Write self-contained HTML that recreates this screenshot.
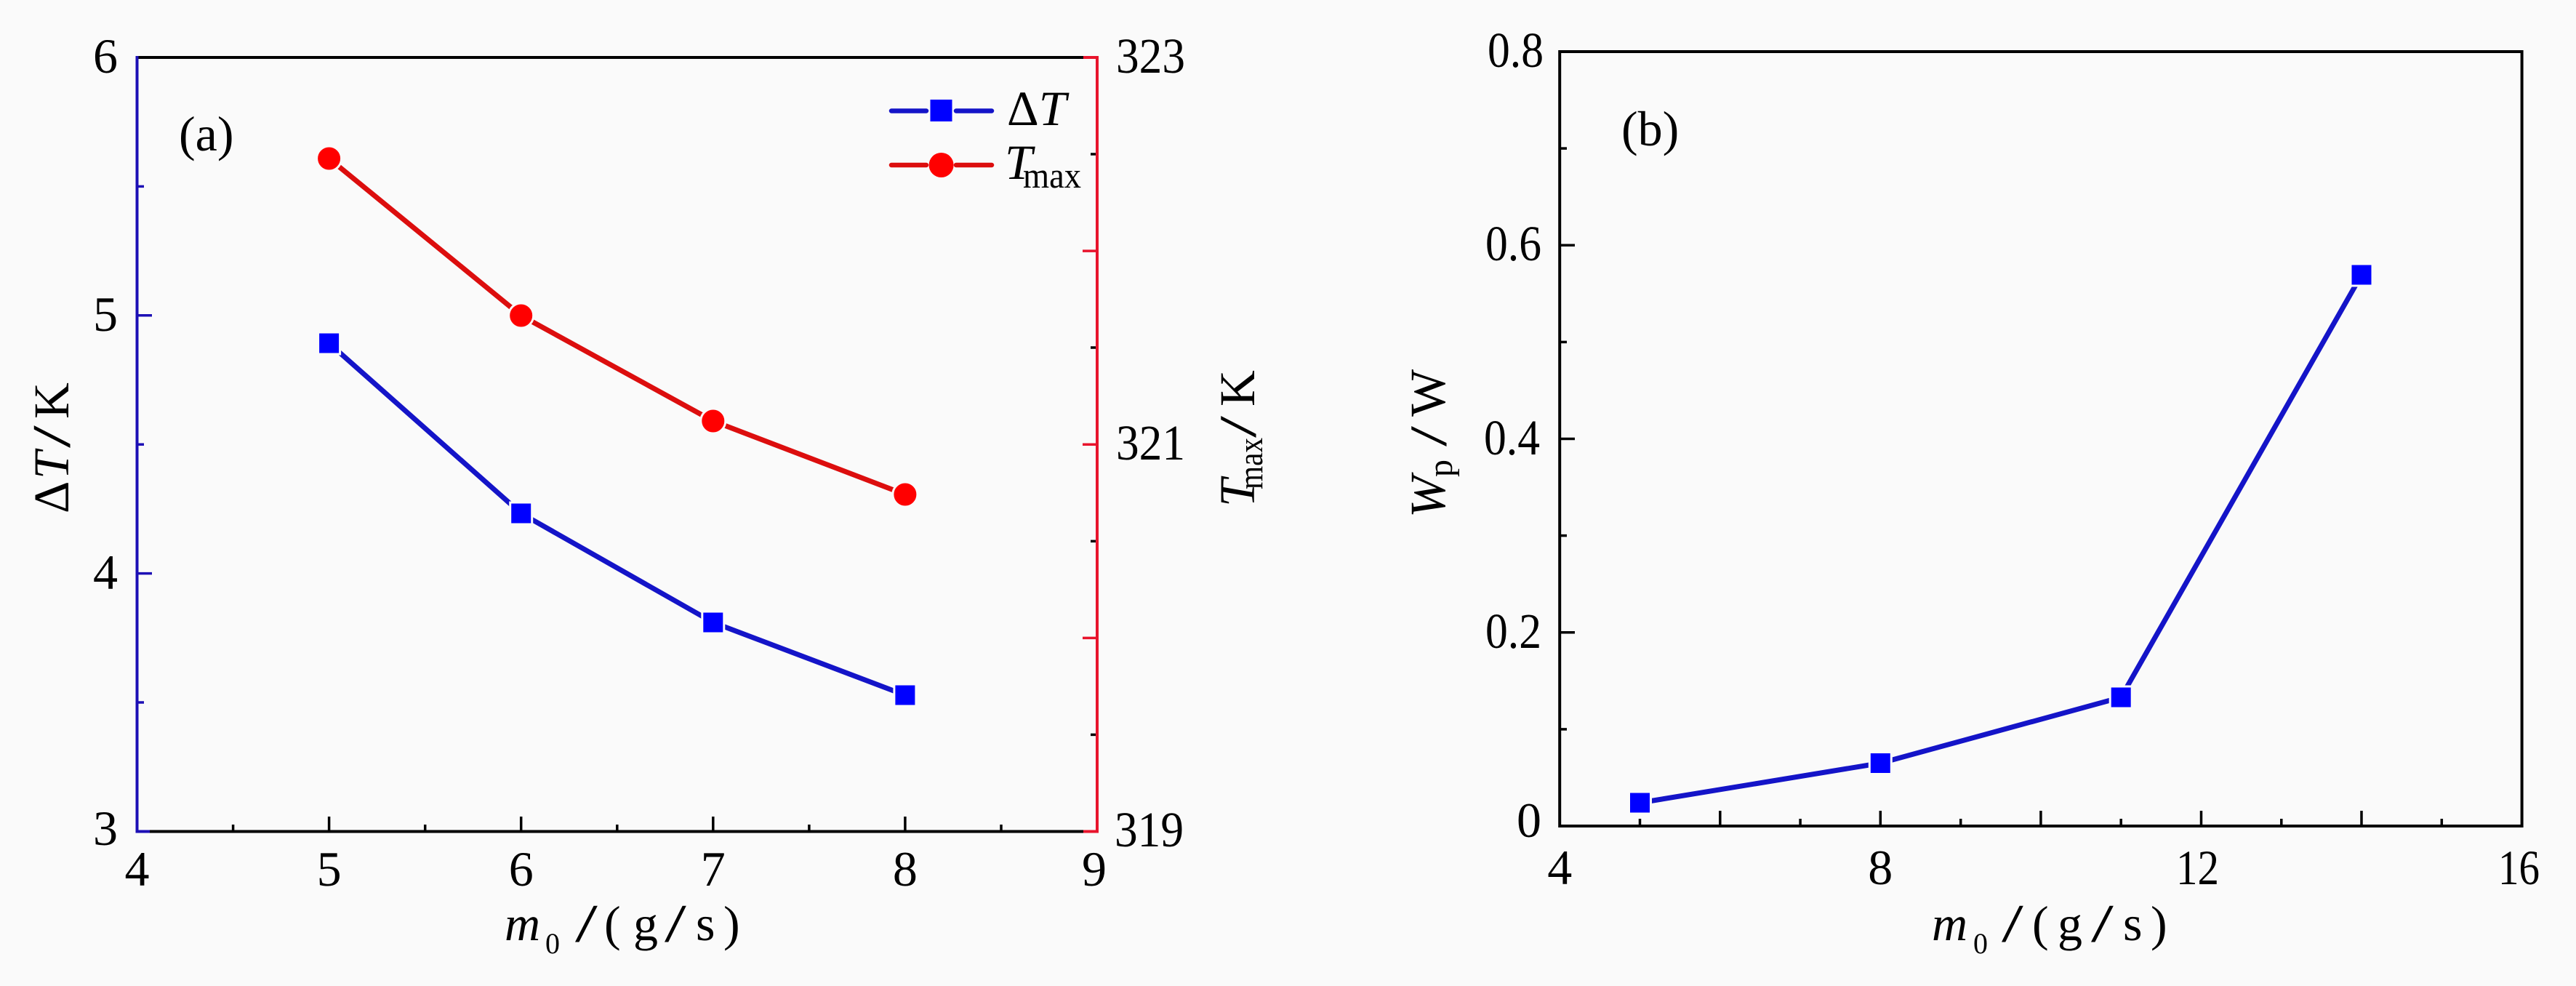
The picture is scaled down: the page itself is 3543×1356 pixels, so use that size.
<!DOCTYPE html>
<html>
<head>
<meta charset="utf-8">
<style>
  html,body{margin:0;padding:0;background:#fafafa;}
  svg{display:block;}
  text{font-family:"Liberation Serif","Times New Roman",serif;fill:#000;}
</style>
</head>
<body>
<svg width="3543" height="1356" viewBox="0 0 3543 1356" xmlns="http://www.w3.org/2000/svg">
  <rect x="0" y="0" width="3543" height="1356" fill="#fafafa"/>

  <!-- ================= PANEL A ================= -->
  <g stroke-width="3.5" fill="none">
    <g stroke="#1c0fb5">
      <line x1="188.5" y1="433.8" x2="209" y2="433.8"/>
      <line x1="188.5" y1="788.6" x2="209" y2="788.6"/>
      <line x1="188.5" y1="256.4" x2="198" y2="256.4"/>
      <line x1="188.5" y1="611.2" x2="198" y2="611.2"/>
      <line x1="188.5" y1="966" x2="198" y2="966"/>
    </g>
    <g stroke="#e8142c">
      <line x1="1509" y1="345.1" x2="1489" y2="345.1"/>
      <line x1="1509" y1="611.2" x2="1489" y2="611.2"/>
      <line x1="1509" y1="877.4" x2="1489" y2="877.4"/>
    </g>
    <g stroke="#000">
      <line x1="1509" y1="212" x2="1500" y2="212"/>
      <line x1="1509" y1="478" x2="1500" y2="478"/>
      <line x1="1509" y1="744.3" x2="1500" y2="744.3"/>
      <line x1="1509" y1="1010.4" x2="1500" y2="1010.4"/>
    </g>
    <g stroke="#000">
      <line x1="452.6" y1="1143.5" x2="452.6" y2="1123"/>
      <line x1="716.7" y1="1143.5" x2="716.7" y2="1123"/>
      <line x1="980.8" y1="1143.5" x2="980.8" y2="1123"/>
      <line x1="1244.9" y1="1143.5" x2="1244.9" y2="1123"/>
      <line x1="320.6" y1="1143.5" x2="320.6" y2="1134"/>
      <line x1="584.7" y1="1143.5" x2="584.7" y2="1134"/>
      <line x1="848.8" y1="1143.5" x2="848.8" y2="1134"/>
      <line x1="1112.9" y1="1143.5" x2="1112.9" y2="1134"/>
      <line x1="1377" y1="1143.5" x2="1377" y2="1134"/>
    </g>
  </g>
  <g stroke-width="4" fill="none">
    <line x1="188.5" y1="79" x2="1509" y2="79" stroke="#000"/>
    <line x1="188.5" y1="1143.5" x2="1509" y2="1143.5" stroke="#000"/>
    <line x1="188.5" y1="1143.5" x2="206" y2="1143.5" stroke="#1c0fb5"/>
    <line x1="188.5" y1="77" x2="188.5" y2="1145.5" stroke="#1c0fb5"/>
    <line x1="1509" y1="77" x2="1509" y2="1145.5" stroke="#e8142c"/>
    <line x1="1490" y1="79" x2="1509" y2="79" stroke="#e8142c"/>
    <line x1="1490" y1="1143.5" x2="1509" y2="1143.5" stroke="#e8142c"/>
  </g>

  <!-- series Tmax (red) -->
  <polyline points="452.6,218 716.7,434 980.8,579 1244.9,680" fill="none" stroke="#dc0e0e" stroke-width="7" stroke-linejoin="round"/>
  <g fill="#ff0000" stroke="#fafafa" stroke-width="3">
    <circle cx="452.6" cy="218" r="17"/>
    <circle cx="716.7" cy="434" r="17"/>
    <circle cx="980.8" cy="579" r="17"/>
    <circle cx="1244.9" cy="680" r="17"/>
  </g>
  <!-- series dT (blue) -->
  <polyline points="452.6,472 716.7,706 980.8,856 1244.9,956" fill="none" stroke="#1414c8" stroke-width="7" stroke-linejoin="round"/>
  <g fill="#0000ff" stroke="#fafafa" stroke-width="3">
    <rect x="437.6" y="457" width="30" height="30"/>
    <rect x="701.7" y="691" width="30" height="30"/>
    <rect x="965.8" y="841" width="30" height="30"/>
    <rect x="1229.9" y="941" width="30" height="30"/>
  </g>

  <!-- legend -->
  <g stroke-width="6.5" stroke-linecap="round">
    <line x1="1226" y1="152.5" x2="1274" y2="152.5" stroke="#1414c8"/>
    <line x1="1315" y1="152.5" x2="1364" y2="152.5" stroke="#1414c8"/>
    <line x1="1226" y1="227" x2="1274" y2="227" stroke="#dc0e0e"/>
    <line x1="1315" y1="227" x2="1364" y2="227" stroke="#dc0e0e"/>
  </g>
  <rect x="1279.5" y="137" width="30" height="30" fill="#0000ff"/>
  <circle cx="1294.6" cy="227" r="17" fill="#ff0000"/>
  <text x="1385" y="172" font-size="68">Δ<tspan font-style="italic">T</tspan></text>
  <text x="1382" y="246" font-size="68" font-style="italic">T</text>
  <text x="1407" y="258" font-size="50" textLength="80" lengthAdjust="spacingAndGlyphs">max</text>

  <text x="246" y="207" font-size="68">(a)</text>

  <g font-size="68" text-anchor="end">
    <text x="162" y="100">6</text>
    <text x="162" y="455">5</text>
    <text x="162" y="810">4</text>
    <text x="162" y="1162">3</text>
  </g>
  <g font-size="69">
    <text x="1535" y="100" textLength="95" lengthAdjust="spacingAndGlyphs">323</text>
    <text x="1535" y="632" textLength="95" lengthAdjust="spacingAndGlyphs">321</text>
    <text x="1533" y="1164" textLength="95" lengthAdjust="spacingAndGlyphs">319</text>
  </g>
  <g font-size="68" text-anchor="middle">
    <text x="188.5" y="1218">4</text>
    <text x="452.6" y="1218">5</text>
    <text x="716.7" y="1218">6</text>
    <text x="980.8" y="1218">7</text>
    <text x="1244.9" y="1218">8</text>
    <text x="1505" y="1218">9</text>
  </g>

  <!-- x title a -->
  <g font-size="68">
    <text x="694" y="1293" font-style="italic">m</text>
    <text x="750" y="1311" font-size="40">0</text>
    <text transform="translate(791,1295) scale(1.5,1)" font-size="74">/</text>
    <text x="831" y="1293">(</text>
    <text x="871" y="1293">g</text>
    <text transform="translate(914,1295) scale(1.45,1)" font-size="74">/</text>
    <text x="957" y="1293">s</text>
    <text x="995" y="1293">)</text>
  </g>

  <!-- y title left a -->
  <g transform="translate(94,0) rotate(-90)" font-size="69">
    <text x="-706" y="0">Δ</text>
    <text x="-659" y="0" font-style="italic">T</text>
    <text transform="translate(-616,2) scale(1.5,1)" font-size="74">/</text>
    <text x="-576" y="0">K</text>
  </g>
  <!-- y title right a -->
  <g transform="translate(1725,0) rotate(-90)" font-size="69">
    <text x="-697" y="0" font-style="italic">T</text>
    <text x="-673" y="11" font-size="48" textLength="71" lengthAdjust="spacingAndGlyphs">max</text>
    <text transform="translate(-602,2) scale(1.5,1)" font-size="72">/</text>
    <text x="-559" y="0">K</text>
  </g>

  <!-- ================= PANEL B ================= -->
  <g stroke-width="3.5" stroke="#000" fill="none">
    <line x1="2365.8" y1="1136" x2="2365.8" y2="1115"/>
    <line x1="2586.3" y1="1136" x2="2586.3" y2="1115"/>
    <line x1="2806.9" y1="1136" x2="2806.9" y2="1115"/>
    <line x1="3027.5" y1="1136" x2="3027.5" y2="1115"/>
    <line x1="3248" y1="1136" x2="3248" y2="1115"/>
    <line x1="2255.5" y1="1136" x2="2255.5" y2="1126"/>
    <line x1="2476.1" y1="1136" x2="2476.1" y2="1126"/>
    <line x1="2696.7" y1="1136" x2="2696.7" y2="1126"/>
    <line x1="2917.2" y1="1136" x2="2917.2" y2="1126"/>
    <line x1="3137.8" y1="1136" x2="3137.8" y2="1126"/>
    <line x1="3358.3" y1="1136" x2="3358.3" y2="1126"/>
    <line x1="2145.2" y1="869.8" x2="2166" y2="869.8"/>
    <line x1="2145.2" y1="603.5" x2="2166" y2="603.5"/>
    <line x1="2145.2" y1="337.3" x2="2166" y2="337.3"/>
    <line x1="2145.2" y1="1002.9" x2="2155" y2="1002.9"/>
    <line x1="2145.2" y1="736.6" x2="2155" y2="736.6"/>
    <line x1="2145.2" y1="470.4" x2="2155" y2="470.4"/>
    <line x1="2145.2" y1="204.1" x2="2155" y2="204.1"/>
  </g>
  <rect x="2145.2" y="71" width="1323.4" height="1065" fill="none" stroke="#000" stroke-width="4"/>

  <polyline points="2255.5,1104 2586.3,1049.5 2917.2,959 3248,378" fill="none" stroke="#1414c8" stroke-width="7" stroke-linejoin="round"/>
  <g fill="#0000ff" stroke="#fafafa" stroke-width="3">
    <rect x="2240.5" y="1089" width="30" height="30"/>
    <rect x="2571.3" y="1034.5" width="30" height="30"/>
    <rect x="2902.2" y="944" width="30" height="30"/>
    <rect x="3233" y="363" width="30" height="30"/>
  </g>

  <text x="2230" y="200" font-size="68">(b)</text>

  <g font-size="69">
    <text x="2046" y="92" textLength="77" lengthAdjust="spacingAndGlyphs">0.8</text>
    <text x="2043" y="358" textLength="77" lengthAdjust="spacingAndGlyphs">0.6</text>
    <text x="2041" y="625" textLength="77" lengthAdjust="spacingAndGlyphs">0.4</text>
    <text x="2043" y="891" textLength="77" lengthAdjust="spacingAndGlyphs">0.2</text>
  </g>
  <text x="2120" y="1151" font-size="68" text-anchor="end">0</text>
  <g font-size="68">
    <text x="2145.2" y="1216" text-anchor="middle">4</text>
    <text x="2586.3" y="1216" text-anchor="middle">8</text>
    <text x="2993" y="1216" textLength="59" lengthAdjust="spacingAndGlyphs">12</text>
    <text x="3436" y="1216" textLength="57" lengthAdjust="spacingAndGlyphs">16</text>
  </g>

  <!-- x title b -->
  <g font-size="68">
    <text x="2657" y="1293" font-style="italic">m</text>
    <text x="2714" y="1311" font-size="40">0</text>
    <text transform="translate(2753,1295) scale(1.45,1)" font-size="74">/</text>
    <text x="2795" y="1293">(</text>
    <text x="2830" y="1293">g</text>
    <text transform="translate(2876,1295) scale(1.5,1)" font-size="74">/</text>
    <text x="2920" y="1293">s</text>
    <text x="2958" y="1293">)</text>
  </g>

  <!-- y title b -->
  <g transform="translate(1987,0) rotate(-90)" font-size="69">
    <text x="-712" y="0" font-style="italic">W</text>
    <text x="-656" y="10" font-size="48">p</text>
    <text transform="translate(-614,2) scale(1.4,1)" font-size="72">/</text>
    <text x="-573" y="0">W</text>
  </g>
</svg>
</body>
</html>
